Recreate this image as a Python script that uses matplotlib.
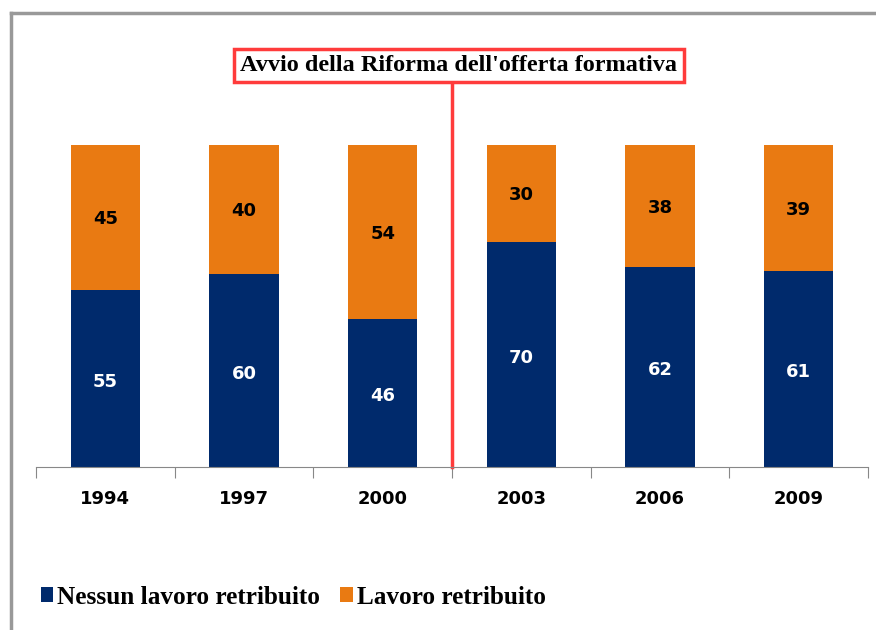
import matplotlib.pyplot as plt
from matplotlib.lines import Line2D
import numpy as np

# dati
anni = ["1994", "1997", "2000", "2003", "2006", "2009"]
nessun_lavoro = [55, 60, 46, 70, 62, 61]
lavoro = [45, 40, 54, 30, 38, 39]

blu = "#002A6C"
arancio = "#E97A12"

fig = plt.figure(figsize=(8.76, 6.3), dpi=100)
ax = fig.add_axes([36 / 876, 163 / 630, 832 / 876, 322 / 630])

x = np.arange(len(anni))
b1 = ax.bar(x, nessun_lavoro, width=0.5, color=blu, label="Nessun lavoro retribuito")
b2 = ax.bar(x, lavoro, width=0.5, bottom=nessun_lavoro, color=arancio, label="Lavoro retribuito")

for i in range(len(anni)):
    ax.text(x[i], nessun_lavoro[i] / 2 - 1, str(nessun_lavoro[i]), ha="center", va="center",
            color="white", fontsize=13, fontweight="bold")
    ax.text(x[i], nessun_lavoro[i] + lavoro[i] / 2 - 0.6, str(lavoro[i]), ha="center", va="center",
            color="black", fontsize=13, fontweight="bold")

ax.set_xlim(-0.5, 5.5)
ax.set_ylim(0, 100)
for s in ["top", "right", "left"]:
    ax.spines[s].set_visible(False)
ax.spines["bottom"].set_color("#888888")
ax.set_yticks([])
ax.set_xticks(np.arange(-0.5, 6, 1))
ax.set_xticklabels([])
ax.tick_params(axis="x", length=8, color="#888888", direction="out")
for i, a in enumerate(anni):
    ax.text(x[i], -9.8, a, ha="center", va="center", fontsize=13, fontweight="bold")

# linea riforma
ax.plot([2.5, 2.5], [0, 119.3], color="#FF3B3B", lw=2.5, clip_on=False)
ax.text(2.55, 124.8, "Avvio della Riforma dell'offerta formativa", ha="center", va="center",
        fontsize=17.5, fontweight="bold", family="Liberation Serif", clip_on=False,
        bbox=dict(boxstyle="square,pad=0.25", fc="white", ec="#FF3B3B", lw=2.5))

fig.legend(handles=[b1, b2], loc="center left", bbox_to_anchor=(18 / 876, 33 / 630), ncol=2,
           frameon=False, prop=dict(family="Liberation Serif", weight="bold", size=18.2),
           handlelength=0.5, handleheight=0.5, handletextpad=0.15, columnspacing=0.8)

# cornice
fig.add_artist(Line2D([11 / 876, 1], [1 - 13 / 630, 1 - 13 / 630], color="#999999", lw=2.5))
fig.add_artist(Line2D([11 / 876, 11 / 876], [0, 1 - 13 / 630], color="#999999", lw=2.5))

fig.savefig("out.png", dpi=100)
